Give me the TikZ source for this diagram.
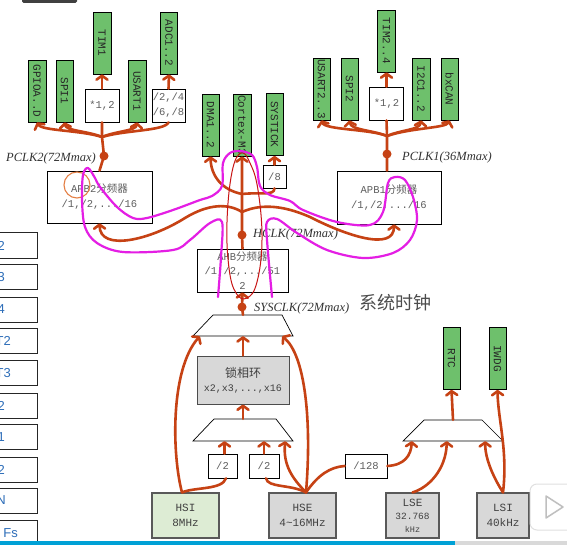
\documentclass[tikz,border=0pt]{standalone}
\usepackage{fontspec}
\usepackage{graphicx}
\setmainfont{Liberation Serif}
\setmonofont{Liberation Mono}
\newfontfamily\cjk{Noto Sans CJK SC}
\newfontfamily\sidefont{Liberation Sans}
\usetikzlibrary{arrows.meta}
\definecolor{busc}{RGB}{198,66,20}
\definecolor{gfill}{RGB}{110,192,108}
\definecolor{magc}{RGB}{228,30,228}
\definecolor{graybox}{RGB}{216,216,216}
\definecolor{hsifill}{RGB}{221,236,212}
\definecolor{txtg}{RGB}{95,95,95}
\definecolor{lblue}{RGB}{46,110,185}
\definecolor{ellred}{RGB}{200,20,20}
\definecolor{circor}{RGB}{228,128,70}
\definecolor{barblue}{RGB}{0,161,214}
\begin{document}
\begin{tikzpicture}[x=1pt,y=-1pt,
  every node/.style={inner sep=0pt},
  gbox/.style={draw=black, line width=0.8pt, fill=gfill, minimum width=17pt, minimum height=62pt, font=\ttfamily\fontsize{11}{11}\selectfont, text=black!85},
  wbox/.style={draw=black, line width=0.7pt, fill=white, align=center, font=\ttfamily\fontsize{10.5}{15}\selectfont, text=txtg},
  gybox/.style={draw=black!65, line width=1.2pt, fill=graybox, align=center, minimum width=67pt, minimum height=45pt, font=\ttfamily\fontsize{11}{15}\selectfont, text=black!75},
  dot/.style={circle, fill=busc, minimum size=9pt},
  bus/.style={draw=busc, line width=2.6pt, line cap=round, line join=round},
  arr/.style={bus, -{Straight Barb[length=4pt, width=11pt, round]}},
  clk/.style={anchor=west, font=\itshape\fontsize{12.5}{12.5}\selectfont, text=black!80},
  muxn/.style={minimum height=21pt, minimum width=100pt},
  muxl/.style={draw=black, line width=0.7pt, fill=white},
  magl/.style={draw=magc, line width=2.2pt, line cap=round, line join=round},
  side/.style={draw=black!85, line width=1pt, fill=white, minimum width=47pt, minimum height=25pt},
  sidetxt/.style={anchor=east, font=\sidefont\fontsize{13}{13}\selectfont, text=lblue}
]
\useasboundingbox (0,0) rectangle (567,545);
\fill[white] (0,0) rectangle (567,545);

% left cut-off boxes
\foreach \yc/\lab/\xe [count=\i] in {245.5/2/5, 277/3/5, 309.5/4/5, 340.5/T2/11, 373/T3/11, 405.5/2/5, 437/1/5, 469.5/2/5, 500.5/N/6, 533/Fs/18} {
  \node[side] (s\i) at (13.5,\yc) {};
  \node[sidetxt] (st\i) at (\xe,\yc) {\lab};
}

% APB2 peripherals
\node[gbox, minimum width=18pt] (gpio) at (37,91) {\rotatebox{-90}{GPIOA..D}};
\node[gbox] (spi1) at (64.5,91) {\rotatebox{-90}{SPI1}};
\node[gbox, minimum width=18pt] (tim1) at (102,43) {\rotatebox{-90}{TIM1}};
\node[wbox, minimum width=34pt, minimum height=33pt] (mul2) at (102,105.5) {*1,2};
\node[gbox, minimum width=18pt] (usart1) at (137,91) {\rotatebox{-90}{USART1}};
\node[gbox] (adc) at (169,43) {\rotatebox{-90}{ADC1..2}};
\node[wbox, minimum width=33pt, minimum height=33pt] (div2468) at (168.5,105.5) {/2,/4\\/6,/8};

% APB1 peripherals
\node[gbox] (usart23) at (321.5,89) {\rotatebox{-90}{USART2..3}};
\node[gbox] (spi2) at (349.5,89) {\rotatebox{-90}{SPI2}};
\node[gbox, minimum width=18pt] (tim24) at (386.5,41) {\rotatebox{-90}{TIM2..4}};
\node[wbox, minimum width=34pt, minimum height=33pt] (mul1) at (386.5,103.5) {*1,2};
\node[gbox, minimum width=18pt] (i2c) at (421,89) {\rotatebox{-90}{I2C1..2}};
\node[gbox] (bxcan) at (449.5,89) {\rotatebox{-90}{bxCAN}};

% AHB peripherals
\node[gbox] (dma) at (210.5,125) {\rotatebox{-90}{DMA1..2}};
\node[gbox, minimum width=18pt] (cortex) at (242,125) {\rotatebox{-90}{Cortex-M3}};
\node[gbox] (systick) at (274.5,124.5) {\rotatebox{-90}{SYSTICK}};
\node[wbox, minimum width=23pt, minimum height=23pt] (div8) at (274.5,176.5) {/8};

% prescalers
\node[wbox, minimum width=105pt, minimum height=52pt] (apb2) at (99.5,197) {APB2{\cjk 分频器}\\/1,/2,.../16};
\node[wbox, minimum width=104pt, minimum height=53pt] (apb1) at (389,197.5) {APB1{\cjk 分频器}\\/1,/2,.../16};
\node[wbox, minimum width=91pt, minimum height=43pt, font=\ttfamily\fontsize{10.5}{14.5}\selectfont] (ahb) at (242.5,270.5) {AHB{\cjk 分频器}\\/1,/2,.../51\\2};

% clock dots and labels
\node[dot] (pclk2) at (104,156) {};
\node[dot] (pclk1) at (387,154) {};
\node[dot] (hclk) at (242,235) {};
\node[dot] (sysclk) at (242,307) {};
\node[clk] (lp2) at (6,158) {PCLK2(72Mmax)};
\node[clk] (lp1) at (402,157) {PCLK1(36Mmax)};
\node[clk] (lh) at (253,234) {HCLK(72Mmax)};
\node[clk] (ls) at (254,308) {SYSCLK(72Mmax)};
\node[anchor=west, font=\cjk\fontsize{18}{18}\selectfont, text=black!70] (xt) at (359,303) {系统时钟};

% muxes
\node[muxn] (sysmux) at (243,325.5) {};
\draw[muxl] (193,336) -- (293,336) -- (282,315) -- (213,315) -- cycle;
\node[muxn, minimum height=22pt] (pllmux) at (243,430) {};
\draw[muxl] (193,441) -- (293,441) -- (276,419) -- (214,419) -- cycle;
\node[muxn, minimum height=21pt] (rtcmux) at (453,430.5) {};
\draw[muxl] (403,441) -- (503,441) -- (482,420) -- (424,420) -- cycle;

% PLL and dividers
\node[gybox, minimum width=92pt, minimum height=48pt, draw=black!70, line width=1pt, font=\ttfamily\fontsize{10}{14}\selectfont] (pll) at (243,380) {{\cjk\fontsize{12}{14}\selectfont 锁相环}\\x2,x3,...,x16};
\node[wbox, minimum width=29pt, minimum height=24pt] (d2a) at (222.5,466) {/2};
\node[wbox, minimum width=30pt, minimum height=24pt] (d2b) at (264,466) {/2};
\node[wbox, minimum width=42pt, minimum height=24pt] (d128) at (366,466) {/128};

% sources
\node[gybox, fill=hsifill] (hsi) at (185.5,515.5) {HSI\\8MHz};
\node[gybox] (hse) at (302.5,515.5) {HSE\\4\textasciitilde16MHz};
\node[gybox, minimum width=53pt, font=\ttfamily\fontsize{11}{13}\selectfont] (lse) at (412.5,515.5) {LSE\\{\fontsize{9.5}{13}\selectfont 32.768}\\{\fontsize{8.5}{11}\selectfont kHz}};
\node[gybox, minimum width=52pt] (lsi) at (503,515.5) {LSI\\40kHz};
\node[gbox] (rtc) at (451.5,358.5) {\rotatebox{-90}{RTC}};
\node[gbox] (iwdg) at (497.5,358.5) {\rotatebox{-90}{IWDG}};

% APB2 bus
\coordinate (b2) at (102,137);
\draw[bus] (apb2.north) -- (pclk2.center) -- (b2) -- (mul2.south);
\draw[arr] (b2) .. controls (80,130) and (42,131) .. (gpio.south);
\draw[arr] (b2) .. controls (88,131) and (66,131) .. (spi1.south);
\draw[arr] (b2) .. controls (116,131) and (136,131) .. (usart1.south);
\draw[bus] (b2) .. controls (125,130) and (165,131) .. (div2468.south);
\draw[arr] (mul2.north) -- (tim1.south);
\draw[arr] (div2468.north) -- (adc.south);

% APB1 bus
\coordinate (b1) at (387,136);
\draw[bus] (apb1.north -| pclk1) -- (pclk1.center) -- (b1) -- (mul1.south);
\draw[arr] (b1) .. controls (370,129) and (325,130) .. (usart23.south);
\draw[arr] (b1) .. controls (372,130) and (351,130) .. (spi2.south);
\draw[arr] (b1) .. controls (400,130) and (420,130) .. (i2c.south);
\draw[arr] (b1) .. controls (410,128) and (446,128) .. (bxcan.south);
\draw[arr] (mul1.north) -- (tim24.south);

% AHB bus
\coordinate (bA) at (242,194);
\coordinate (bB) at (242,212);
\draw[arr] (ahb.north) -- (hclk.center) -- (cortex.south);
\draw[arr] (bA) .. controls (222,190) and (211,176) .. (dma.south);
\draw[bus] (bA) .. controls (262,192) and (274,196) .. (div8.south);
\draw[arr] (div8.north) -- (systick.south);
\draw[arr] (bB) .. controls (228,203) and (208,204) .. (185,218) .. controls (150,240) and (100,252) .. (apb2.south);
\draw[arr] (bB) .. controls (262,203) and (285,206) .. (310,217) .. controls (345,235) and (394,252) .. ([xshift=5pt]apb1.south);

% system clock
\draw[arr] (sysmux.north) -- (sysclk.center) -- (ahb.south);
\draw[arr] (pll.north) -- (sysmux.south);
\draw[arr] (pllmux.north) -- (pll.south);
\draw[arr] ([xshift=2pt]d2a.north) -- ([xshift=2pt]d2a.north |- pllmux.south);
\draw[arr] (d2b.north) -- (d2b.north |- pllmux.south);
\coordinate (hsit) at ([xshift=-3.5pt]hsi.north);
\coordinate (hset) at ([xshift=3.5pt]hse.north);
\draw[arr] (hsit) .. controls (172,455) and (170,370) .. ([xshift=7pt]sysmux.south west);
\draw[bus] (hsit) .. controls (195,487) and (222,490) .. ([xshift=3.5pt]d2a.south);
\draw[bus] (hset) .. controls (290,484) and (268,488) .. ([xshift=2pt]d2b.south);
\draw[arr] (hset) .. controls (292,478) and (283,465) .. ([xshift=-8pt]pllmux.south east);
\draw[arr] (hset) .. controls (312,420) and (305,355) .. ([xshift=-11pt]sysmux.south east);
\draw[bus] (hset) .. controls (318,475) and (330,467) .. (d128.west);

% RTC / IWDG
\draw[arr] (d128.east) .. controls (405,465) and (411,455) .. ([xshift=9pt]rtcmux.south west);
\draw[arr] (lse.north) .. controls (428,488) and (446,470) .. ([xshift=44pt]rtcmux.south west);
\draw[arr] (lsi.north) .. controls (495,480) and (485,460) .. ([xshift=-18pt]rtcmux.south east);
\draw[arr] (lsi.north) .. controls (508,450) and (498,420) .. (iwdg.south);
\draw[arr] (rtcmux.north) -- (rtc.south);

% hand-drawn annotations
\draw[circor, line width=1.1pt] (77,185) circle[radius=13];
\draw[ellred, line width=1pt] plot[smooth cycle, tension=0.7] coordinates {(241,153) (232,172) (227,222) (229,268) (236,293) (247,298) (257,282) (262,240) (258,190) (250,163)};
\draw[magl] plot[smooth, tension=0.55] coordinates {(218,297) (221,257) (222,222) (210,223) (190,240) (173,250) (123,252) (97,243) (85,227) (82,200) (83,175) (88,168) (95,178) (100,187) (117,207) (133,218) (147,218) (173,210) (200,200) (212,196) (222,186) (223,163) (230,153) (240,151) (252,155) (257,167) (260,186) (270,195) (290,201) (303,210) (337,222) (370,225) (383,212) (388,183) (395,177) (405,180) (413,197) (417,220) (410,240) (393,253) (363,258) (327,250) (297,233) (277,219) (267,222) (267,240) (272,297)};

% video overlay bits
\fill[barblue] (0,541) rectangle (455,545);
\fill[black!15] (455,541) rectangle (567,545);
\fill[black!75, rounded corners=1.5pt] (22,-3) rectangle (77,3);
\draw[black!12, fill=white, rounded corners=7pt, line width=1pt] (530,484) rectangle (580,530);
\draw[black!25, line width=1.5pt, line join=round] (546,496) -- (563,507) -- (546,518) -- cycle;
\end{tikzpicture}
\end{document}
